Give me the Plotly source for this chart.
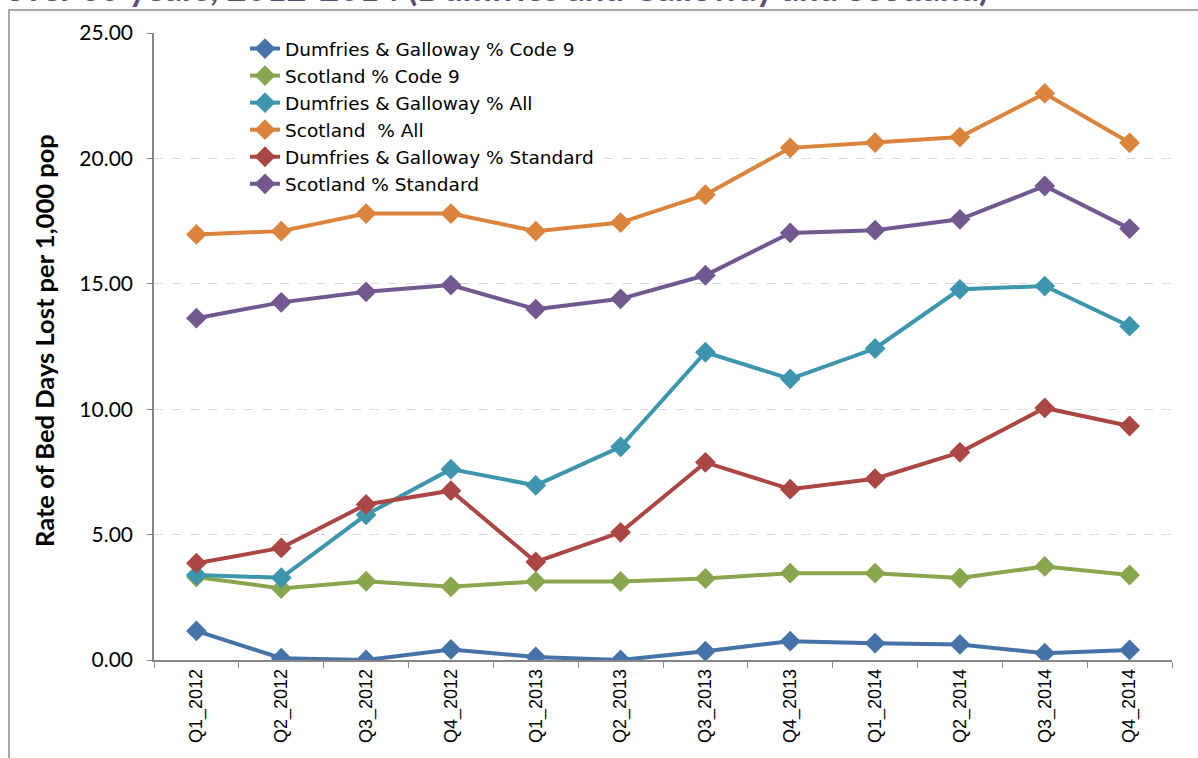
import plotly.graph_objects as go

# Quarterly rate of bed days lost per 1,000 population
quarters = ["Q1_2012", "Q2_2012", "Q3_2012", "Q4_2012",
            "Q1_2013", "Q2_2013", "Q3_2013", "Q4_2013",
            "Q1_2014", "Q2_2014", "Q3_2014", "Q4_2014"]

dg_code9 = [1.16, 0.07, 0.00, 0.42, 0.12, 0.00, 0.35, 0.75, 0.67, 0.62, 0.27, 0.40]
scot_code9 = [3.31, 2.85, 3.14, 2.92, 3.13, 3.13, 3.25, 3.46, 3.46, 3.27, 3.73, 3.39]
dg_all = [3.39, 3.28, 5.79, 7.61, 6.96, 8.50, 12.27, 11.21, 12.42, 14.78, 14.91, 13.31]
scot_all = [16.97, 17.10, 17.80, 17.80, 17.10, 17.44, 18.55, 20.42, 20.63, 20.85, 22.59, 20.62]
dg_standard = [3.86, 4.47, 6.20, 6.75, 3.91, 5.09, 7.88, 6.81, 7.23, 8.28, 10.05, 9.33]
scot_standard = [13.63, 14.26, 14.68, 14.95, 13.99, 14.40, 15.34, 17.03, 17.14, 17.57, 18.90, 17.20]

series = [
    ("Dumfries & Galloway % Code 9", dg_code9, "#4572A7"),
    ("Scotland % Code 9", scot_code9, "#89A54E"),
    ("Dumfries & Galloway % All", dg_all, "#3D96AE"),
    ("Scotland  % All", scot_all, "#DB843D"),
    ("Dumfries & Galloway % Standard", dg_standard, "#AA4643"),
    ("Scotland % Standard", scot_standard, "#71588F"),
]

y_ticks = [0, 5, 10, 15, 20, 25]

W, H = 1198, 758
L, R, T, B = 154, 26, 33, 98
pw, ph = W - L - R, H - T - B


def px_x(p):
    return (p - L) / pw


def px_y(p):
    return (H - B - p) / ph


fig = go.Figure()
for name, vals, color in series:
    fig.add_trace(go.Scatter(
        x=quarters, y=vals, name=name, mode="lines+markers",
        line=dict(color=color, width=4),
        marker=dict(symbol="diamond", size=16, color=color),
    ))

fig.update_layout(
    width=W, height=H,
    margin=dict(l=L, r=R, t=T, b=B),
    paper_bgcolor="white", plot_bgcolor="white",
    showlegend=True,
    legend=dict(
        x=px_x(245), y=px_y(30), xanchor="left", yanchor="top",
        bgcolor="white", font=dict(family="DejaVu Sans", size=18.5, color="#000000"),
        tracegroupgap=0, itemwidth=30,
    ),
    xaxis=dict(
        type="category", range=[-0.5, 11.5],
        showline=True, linecolor="#868686", linewidth=1.5,
        ticks="outside", tickson="boundaries", ticklen=6, tickcolor="#868686",
        tickangle=-90, showgrid=False,
        tickfont=dict(family="Liberation Sans", size=18, color="#000000"),
    ),
    yaxis=dict(
        range=[0, 25], tickvals=y_ticks,
        ticktext=[f"{v:.2f}" for v in y_ticks],
        showline=True, linecolor="#868686", linewidth=1.5,
        ticks="outside", ticklen=5, tickcolor="#868686",
        ticklabelstandoff=10,
        showgrid=True, gridcolor="#D9D9D9", griddash="dash", gridwidth=1.2,
        zeroline=False,
        tickfont=dict(family="Lato", size=21, color="#000000"),
    ),
    annotations=[
        dict(
            text="Rate of Bed Days Lost per 1,000 pop",
            xref="paper", yref="paper", x=px_x(44), y=px_y(341),
            xanchor="center", yanchor="middle", textangle=-90, showarrow=False,
            font=dict(family="Lato", size=25.5, color="#000000", weight="bold"),
        ),
        dict(
            text="over 65 years, 2012-2014 (Dumfries and Galloway and Scotland)",
            xref="paper", yref="paper", x=px_x(3), y=px_y(10),
            xanchor="left", yanchor="bottom", showarrow=False,
            font=dict(family="Lato", size=34.5, color="#604A7B", weight="bold"),
        ),
    ],
    shapes=[
        dict(type="rect", xref="paper", yref="paper",
             x0=px_x(9), x1=px_x(W + 20), y0=px_y(H + 20), y1=px_y(10),
             line=dict(color="#8C8C8C", width=1.5), fillcolor="rgba(0,0,0,0)",
             layer="below"),
    ],
)

fig.write_html("out.html")
